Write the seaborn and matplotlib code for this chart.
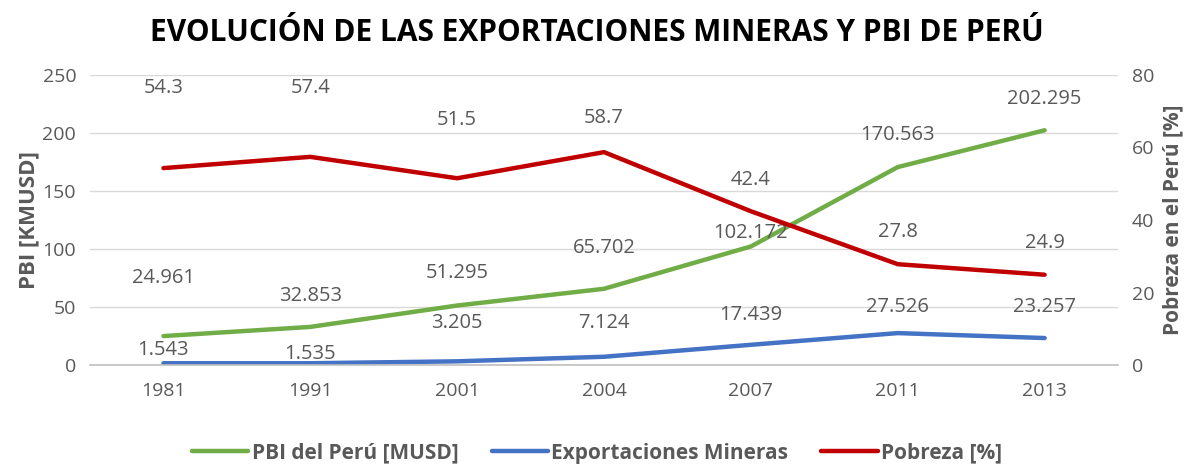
import seaborn as sns
import matplotlib.pyplot as plt
import pandas as pd

# chart data
years = ['1981', '1991', '2001', '2004', '2007', '2011', '2013']
pbi = [24.961, 32.853, 51.295, 65.702, 102.172, 170.563, 202.295]
exportaciones = [1.543, 1.535, 3.205, 7.124, 17.439, 27.526, 23.257]
pobreza = [54.3, 57.4, 51.5, 58.7, 42.4, 27.8, 24.9]

# label offsets above each point (pixels), like the Excel layout
pbi_off = [58, 31, 33, 41, 13, 32, 31]
exp_off = [13, 9, 38, 34, 30, 26, 31]
pob_off = [80, 69, 58, 34, 31, 32, 32]

GREEN = '#70AD47'
BLUE = '#4472C4'
RED = '#C00000'
GRAY = '#595959'

sns.set_theme(style='white')
plt.rcParams['font.family'] = ['Open Sans', 'DejaVu Sans']

df = pd.DataFrame({'pos': range(len(years)), 'year': years,
                   'pbi': pbi, 'exp': exportaciones, 'pob': pobreza})

fig = plt.figure(figsize=(11.94, 4.68), dpi=100)
ax = fig.add_axes([0.0754, 0.22, 0.861, 0.62])
ax2 = ax.twinx()

sns.lineplot(data=df, x='pos', y='pbi', ax=ax, color=GREEN, lw=3.2,
             label='PBI del Perú [MUSD]', legend=False)
sns.lineplot(data=df, x='pos', y='exp', ax=ax, color=BLUE, lw=3.2,
             label='Exportaciones Mineras', legend=False)
sns.lineplot(data=df, x='pos', y='pob', ax=ax2, color=RED, lw=3.2,
             label='Pobreza [%]', legend=False)

ax.set_xlim(-0.5, len(years) - 0.5)
ax.set_ylim(0, 250)
ax2.set_ylim(0, 80)
ax.set_yticks(range(0, 251, 50))
ax2.set_yticks(range(0, 81, 20))
ax.set_xticks(df['pos'])
ax.set_xticklabels(years)

ax.grid(axis='y', color='#D9D9D9', lw=1)
ax.set_axisbelow(True)
for a in (ax, ax2):
    for s in a.spines.values():
        s.set_visible(False)
    a.tick_params(length=0, labelsize=14, labelcolor=GRAY)
ax.spines['bottom'].set_visible(True)
ax.spines['bottom'].set_color('#BFBFBF')
ax.spines['bottom'].set_linewidth(1.2)
ax.tick_params(axis='x', pad=12)
ax.tick_params(axis='y', pad=10)
ax2.tick_params(axis='y', pad=10)

ax.set_xlabel('')
ax.set_ylabel('PBI [KMUSD]', fontsize=16, fontweight='bold', color=GRAY, labelpad=2)
ax2.set_ylabel('Pobreza en el Perú [%]', fontsize=15, fontweight='bold', color=GRAY, labelpad=6)

def fmt(v, dec):
    return f'{v:.{dec}f}'

for i in range(len(years)):
    ax.annotate(fmt(pbi[i], 3), (i, pbi[i]), xytext=(0, pbi_off[i] * 0.72),
                textcoords='offset points', ha='center', va='center',
                fontsize=14.5, color=GRAY)
    ax.annotate(fmt(exportaciones[i], 3), (i, exportaciones[i]), xytext=(0, exp_off[i] * 0.72),
                textcoords='offset points', ha='center', va='center',
                fontsize=14.5, color=GRAY)
    ax2.annotate(fmt(pobreza[i], 1), (i, pobreza[i]), xytext=(0, pob_off[i] * 0.72),
                 textcoords='offset points', ha='center', va='center',
                 fontsize=14.5, color=GRAY)

fig.text(0.5, 0.93, 'EVOLUCIÓN DE LAS EXPORTACIONES MINERAS Y PBI DE PERÚ',
         ha='center', va='center', fontsize=21.5, fontweight='bold', color='black')

h1, l1 = ax.get_legend_handles_labels()
h2, l2 = ax2.get_legend_handles_labels()
leg = fig.legend(h1 + h2, l1 + l2, loc='center', bbox_to_anchor=(0.5, 0.032), ncol=3,
                 frameon=False, prop={'size': 15, 'weight': 'bold'}, labelcolor=GRAY,
                 handlelength=2.7, handletextpad=0.15, columnspacing=1.6)

plt.savefig('out.png', dpi=100)
plt.close()
